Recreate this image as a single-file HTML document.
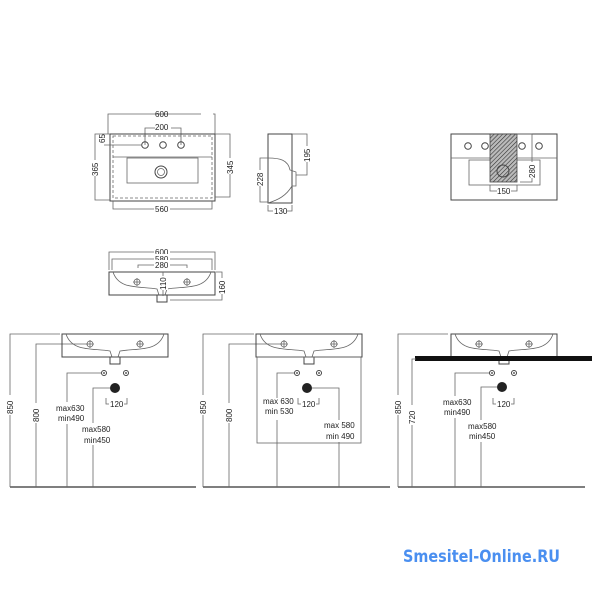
<!DOCTYPE html>
<html><head><meta charset="utf-8"><style>
html,body{margin:0;padding:0;background:#fff;width:600px;height:600px;overflow:hidden}
svg{display:block}
text{font-family:"Liberation Sans",sans-serif;font-size:8px;fill:#222}
.l{stroke:#444;stroke-width:1;fill:none}
.t{stroke:#666;stroke-width:0.8;fill:none}
</style></head><body>
<svg width="600" height="600" viewBox="0 0 600 600" xmlns="http://www.w3.org/2000/svg">
<defs>
<pattern id="h" width="3" height="3" patternUnits="userSpaceOnUse" patternTransform="rotate(45)">
<rect width="3" height="3" fill="#bbb"/><line x1="0" y1="0" x2="0" y2="3" stroke="#333" stroke-width="1.2"/></pattern>
<g id="basin">
<rect x="0" y="0" width="106" height="23" class="l"/>
<path d="M4 0 C10 18 30 14 48 17 L50 23 M102 0 C96 18 76 14 58 17 L56 23" class="t"/>
<rect x="48" y="23" width="10" height="7" class="l"/>
<circle cx="28" cy="10" r="3" class="t"/><path d="M24 10h8M28 6v8" class="t"/>
<circle cx="78" cy="10" r="3" class="t"/><path d="M74 10h8M78 6v8" class="t"/>
</g>
<g id="holes">
<circle cx="0" cy="0" r="2.5" class="l"/><circle cx="0" cy="0" r="0.9" fill="#333"/>
<circle cx="22" cy="0" r="2.5" class="l"/><circle cx="22" cy="0" r="0.9" fill="#333"/>
</g>
</defs>

<!-- TOP VIEW -->
<path d="M108 134V114H215V134" class="t"/>
<rect x="201" y="108" width="12" height="9" fill="#fff"/>
<text x="155" y="117">600</text>
<rect x="150" y="108" width="0" height="0"/>
<path d="M145 145V128H181V145" class="t"/>
<rect x="155" y="122" width="16" height="9" fill="#fff"/>
<text x="155" y="130">200</text>
<rect x="110" y="134" width="105" height="67" class="l"/>
<rect x="113" y="136" width="99" height="62" class="t" stroke-dasharray="3,2"/>
<line x1="113" y1="157" x2="212" y2="157" class="t"/>
<rect x="127" y="158" width="71" height="25" class="t"/>
<circle cx="161" cy="172" r="6" class="l"/><circle cx="161" cy="172" r="3.5" class="t"/>
<circle cx="145" cy="145" r="3.3" class="l"/><circle cx="163" cy="145" r="3.3" class="l"/><circle cx="181" cy="145" r="3.3" class="l"/>
<path d="M104 145H142" class="t"/>
<text transform="translate(105,143) rotate(-90)" font-size="7">65</text>
<path d="M110 134H95V200H110" class="t"/>
<rect x="90" y="160" width="10" height="16" fill="#fff"/>
<text transform="translate(98,176) rotate(-90)">365</text>
<path d="M215 134H230V197H215" class="t"/>
<rect x="225" y="158" width="10" height="16" fill="#fff"/>
<text transform="translate(233,174) rotate(-90)">345</text>
<path d="M113 201V209H212V201" class="t"/>
<rect x="154" y="204" width="16" height="9" fill="#fff"/>
<text x="155" y="212">560</text>

<!-- SIDE VIEW -->
<rect x="268" y="134" width="24" height="69" class="l"/>
<path d="M268 158 C280 158 288 160 290 170 L296 172 V186 L292 186 C286 196 278 200 268 203" class="t"/>
<path d="M292 134H307V175H296" class="t"/>
<rect x="302" y="146" width="10" height="16" fill="#fff"/>
<text transform="translate(310,162) rotate(-90)">195</text>
<path d="M268 158H260V202H268" class="t"/>
<rect x="255" y="170" width="10" height="16" fill="#fff"/>
<text transform="translate(263,186) rotate(-90)">228</text>
<path d="M268 205V211H292V205" class="t"/>
<rect x="273" y="206" width="14" height="9" fill="#fff"/>
<text x="274" y="214">130</text>

<!-- RIGHT TOP VIEW -->
<rect x="451" y="134" width="106" height="66" class="l"/>
<line x1="451" y1="158" x2="557" y2="158" class="t"/>
<rect x="469" y="160" width="71" height="25" class="t"/>
<circle cx="468" cy="146" r="3.3" class="l"/><circle cx="485" cy="146" r="3.3" class="l"/><circle cx="522" cy="146" r="3.3" class="l"/><circle cx="539" cy="146" r="3.3" class="l"/>
<rect x="490" y="134" width="27" height="48" fill="url(#h)" stroke="#444" stroke-width="0.8"/>
<circle cx="503" cy="171" r="6" class="l"/>
<path d="M517 134H532V182H520" class="t"/>
<rect x="527" y="162" width="10" height="16" fill="#fff"/>
<text transform="translate(535,178) rotate(-90)">280</text>
<path d="M490 185V191H517V185" class="t"/>
<rect x="497" y="186" width="14" height="9" fill="#fff"/>
<text x="497" y="194">150</text>

<!-- FRONT VIEW -->
<path d="M109 270V252H215V270" class="t"/>
<rect x="154" y="247" width="16" height="9" fill="#fff"/><text x="155" y="255">600</text>
<path d="M112 270V259H212V270" class="t"/>
<rect x="154" y="254" width="16" height="9" fill="#fff"/><text x="155" y="262">580</text>
<path d="M138 268V265H187V268" class="t"/>
<rect x="154" y="260" width="16" height="9" fill="#fff"/><text x="155" y="268">280</text>
<use href="#basin" transform="translate(109,272)"/>
<path d="M163 272V296" class="t"/>
<rect x="158" y="276" width="10" height="14" fill="#fff"/>
<text transform="translate(166,290) rotate(-90)">110</text>
<path d="M216 272H222V300H170" class="t"/>
<rect x="217" y="278" width="10" height="16" fill="#fff"/>
<text transform="translate(225,294) rotate(-90)">160</text>

<!-- PANEL 1 -->
<line x1="10" y1="487" x2="196" y2="487" stroke="#333" stroke-width="1.2"/>
<path d="M10 487V334H60" class="t"/>
<path d="M36 487V344H88" class="t"/>
<use href="#basin" transform="translate(62,334)"/>
<use href="#holes" transform="translate(104,373)"/>
<circle cx="115" cy="388" r="5" fill="#222"/>
<path d="M67 487V373H101" class="t"/>
<path d="M93 487V388H110" class="t"/>
<path d="M106 398V404H109 M124 404H127V398" class="t"/>
<text x="110" y="407">120</text>
<rect x="5" y="395" width="10" height="20" fill="#fff"/>
<text transform="translate(13,414) rotate(-90)">850</text>
<rect x="31" y="403" width="10" height="20" fill="#fff"/>
<text transform="translate(39,422) rotate(-90)">800</text>
<rect x="55" y="402" width="28" height="22" fill="#fff"/>
<text x="56" y="411">max630</text><text x="58" y="421">min490</text>
<rect x="80" y="423" width="30" height="22" fill="#fff"/>
<text x="82" y="432">max580</text><text x="84" y="443">min450</text>

<!-- PANEL 2 -->
<line x1="203" y1="487" x2="390" y2="487" stroke="#333" stroke-width="1.2"/>
<path d="M203 487V334H254" class="t"/>
<path d="M229 487V344H282" class="t"/>
<use href="#basin" transform="translate(256,334)"/>
<rect x="257" y="357" width="104" height="86" class="t"/>
<use href="#holes" transform="translate(297,373)"/>
<circle cx="307" cy="388" r="5" fill="#222"/>
<path d="M277 487V373H294" class="t"/>
<path d="M339 487V388H312" class="t"/>
<path d="M298 398V404H301 M316 404H319V398" class="t"/>
<text x="302" y="407">120</text>
<rect x="198" y="395" width="10" height="20" fill="#fff"/>
<text transform="translate(206,414) rotate(-90)">850</text>
<rect x="224" y="403" width="10" height="20" fill="#fff"/>
<text transform="translate(232,422) rotate(-90)">800</text>
<rect x="262" y="398" width="34" height="22" fill="#fff"/>
<text x="263" y="404">max 630</text><text x="265" y="414">min 530</text>
<rect x="322" y="420" width="34" height="22" fill="#fff"/>
<text x="324" y="428">max 580</text><text x="326" y="439">min 490</text>

<!-- PANEL 3 -->
<line x1="398" y1="487" x2="585" y2="487" stroke="#333" stroke-width="1.2"/>
<path d="M398 487V334H448" class="t"/>
<use href="#basin" transform="translate(451,334)"/>
<rect x="415" y="356" width="177" height="5" fill="#111"/>
<path d="M412 487V359H416" class="t"/>
<use href="#holes" transform="translate(492,373)"/>
<circle cx="502" cy="387" r="5" fill="#222"/>
<path d="M455 487V373H489" class="t"/>
<path d="M481 487V387H497" class="t"/>
<path d="M493 398V404H496 M511 404H514V398" class="t"/>
<text x="497" y="407">120</text>
<rect x="393" y="395" width="10" height="20" fill="#fff"/>
<text transform="translate(401,414) rotate(-90)">850</text>
<rect x="407" y="405" width="10" height="20" fill="#fff"/>
<text transform="translate(415,424) rotate(-90)">720</text>
<rect x="442" y="396" width="30" height="22" fill="#fff"/>
<text x="443" y="405">max630</text><text x="444" y="415">min490</text>
<rect x="467" y="420" width="30" height="22" fill="#fff"/>
<text x="468" y="429">max580</text><text x="469" y="439">min450</text>

<text x="403" y="562" style="font-size:17px;font-weight:bold;fill:#4a8ff0;font-family:'DejaVu Sans','Liberation Sans',sans-serif" textLength="157" lengthAdjust="spacingAndGlyphs">Smesitel-Online.RU</text>
</svg>
</body></html>
